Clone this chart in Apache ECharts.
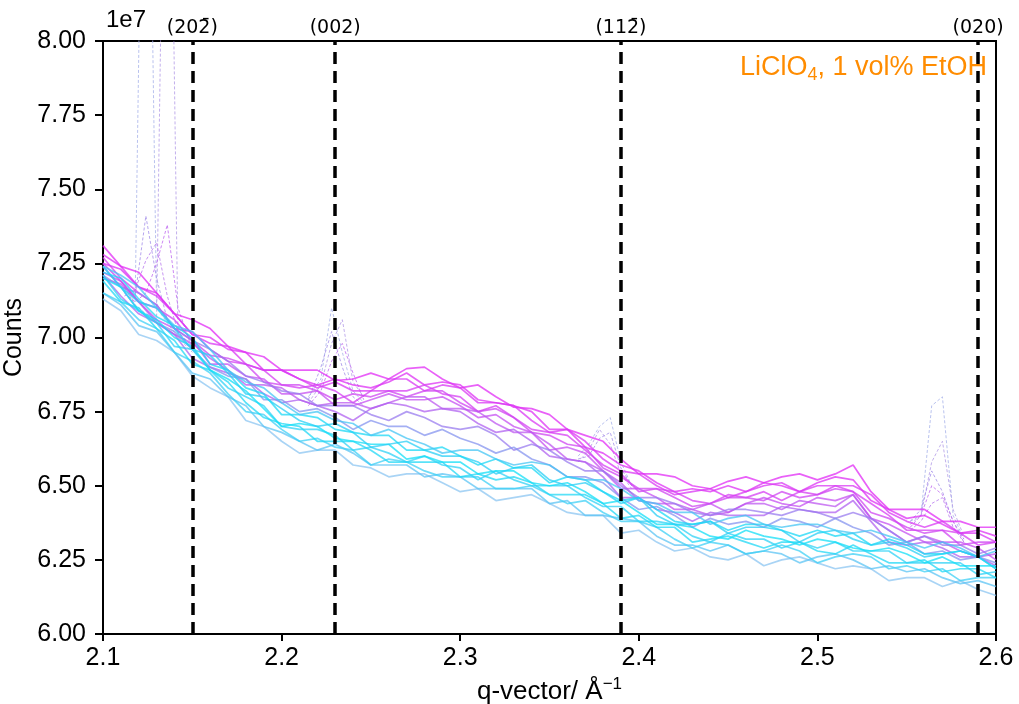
<!DOCTYPE html>
<html><head><meta charset="utf-8">
<script src="https://cdn.jsdelivr.net/npm/echarts@6/dist/echarts.min.js"></script>
<style>html,body{margin:0;padding:0;background:#fff}#c{width:1019px;height:704px}</style>
</head><body><div id="c"></div>
<script>
// q-vector grid (Å^-1)
const q = [2.10,2.11,2.12,2.13,2.14,2.15,2.16,2.17,2.18,2.19,2.20,2.21,2.22,2.23,2.24,2.25,2.26,2.27,2.28,2.29,2.30,2.31,2.32,2.33,2.34,2.35,2.36,2.37,2.38,2.39,2.40,2.41,2.42,2.43,2.44,2.45,2.46,2.47,2.48,2.49,2.50,2.51,2.52,2.53,2.54,2.55,2.56,2.57,2.58,2.59,2.60];
// counts (x1e7) for representative scans, magenta (late) -> cyan (early)
const m1 = [7.31,7.24,7.22,7.15,7.08,7.06,7.03,6.97,6.95,6.935,6.89,6.89,6.89,6.855,6.86,6.88,6.86,6.895,6.90,6.86,6.83,6.84,6.80,6.765,6.76,6.74,6.69,6.67,6.65,6.59,6.54,6.54,6.53,6.50,6.49,6.515,6.53,6.51,6.53,6.54,6.52,6.54,6.57,6.48,6.42,6.42,6.42,6.38,6.38,6.36,6.36];
const m6 = [7.28,7.24,7.17,7.15,7.08,7.01,7.00,6.96,6.95,6.89,6.89,6.86,6.84,6.86,6.84,6.83,6.85,6.88,6.84,6.85,6.84,6.79,6.78,6.77,6.75,6.69,6.69,6.63,6.61,6.57,6.55,6.51,6.48,6.49,6.48,6.50,6.48,6.51,6.50,6.48,6.51,6.53,6.52,6.45,6.42,6.39,6.40,6.37,6.34,6.35,6.33];
const m2 = [7.25,7.23,7.17,7.14,7.08,7.01,6.98,6.97,6.91,6.89,6.89,6.86,6.83,6.85,6.82,6.82,6.86,6.86,6.82,6.84,6.83,6.78,6.78,6.77,6.72,6.68,6.69,6.65,6.59,6.55,6.54,6.50,6.47,6.48,6.49,6.46,6.48,6.50,6.51,6.48,6.50,6.50,6.50,6.47,6.41,6.38,6.36,6.38,6.34,6.34,6.31];
const m7 = [7.27,7.20,7.15,7.11,7.03,7.02,6.96,6.92,6.91,6.89,6.84,6.83,6.84,6.82,6.78,6.82,6.82,6.82,6.84,6.81,6.80,6.75,6.77,6.73,6.69,6.68,6.67,6.62,6.57,6.54,6.48,6.49,6.48,6.45,6.44,6.47,6.46,6.48,6.45,6.48,6.47,6.50,6.48,6.44,6.40,6.35,6.35,6.35,6.34,6.30,6.31];
const m3 = [7.25,7.19,7.12,7.10,7.06,6.99,6.94,6.93,6.91,6.85,6.84,6.84,6.82,6.79,6.81,6.80,6.82,6.80,6.82,6.82,6.78,6.75,6.76,6.73,6.68,6.67,6.64,6.63,6.56,6.53,6.49,6.49,6.46,6.43,6.44,6.46,6.46,6.45,6.48,6.46,6.47,6.49,6.48,6.41,6.39,6.36,6.34,6.35,6.30,6.31,6.31];
const m8 = [7.22,7.19,7.12,7.06,7.03,6.99,6.91,6.91,6.87,6.86,6.81,6.81,6.82,6.77,6.77,6.79,6.81,6.79,6.79,6.80,6.77,6.73,6.74,6.70,6.68,6.62,6.63,6.61,6.55,6.49,6.49,6.46,6.42,6.42,6.44,6.41,6.44,6.46,6.44,6.43,6.46,6.45,6.47,6.39,6.37,6.34,6.31,6.31,6.31,6.29,6.25];
const m4 = [7.20,7.18,7.12,7.05,7.01,6.98,6.93,6.89,6.84,6.84,6.83,6.79,6.77,6.78,6.78,6.76,6.78,6.80,6.80,6.76,6.76,6.75,6.71,6.68,6.68,6.64,6.59,6.58,6.55,6.51,6.45,6.44,6.44,6.42,6.40,6.41,6.44,6.44,6.42,6.45,6.44,6.43,6.47,6.39,6.35,6.31,6.33,6.31,6.28,6.26,6.27];
const m5 = [7.21,7.14,7.08,7.05,7.01,6.93,6.90,6.88,6.86,6.81,6.78,6.79,6.77,6.75,6.72,6.76,6.78,6.77,6.75,6.76,6.75,6.71,6.68,6.69,6.65,6.60,6.59,6.58,6.53,6.46,6.46,6.42,6.41,6.38,6.41,6.40,6.40,6.40,6.43,6.42,6.41,6.41,6.45,6.38,6.31,6.30,6.31,6.29,6.26,6.26,6.23];
const p1 = [7.24,7.17,7.15,7.11,7.03,6.99,6.96,6.92,6.87,6.85,6.82,6.81,6.77,6.77,6.77,6.74,6.72,6.75,6.73,6.70,6.69,6.70,6.67,6.62,6.64,6.62,6.58,6.55,6.55,6.50,6.46,6.46,6.44,6.41,6.40,6.42,6.42,6.41,6.40,6.42,6.41,6.39,6.41,6.39,6.35,6.31,6.33,6.30,6.30,6.27,6.29];
const p2 = [7.21,7.17,7.09,7.05,7.02,6.96,6.90,6.87,6.86,6.79,6.79,6.75,6.76,6.73,6.69,6.72,6.70,6.70,6.67,6.69,6.66,6.64,6.61,6.63,6.59,6.57,6.53,6.53,6.51,6.46,6.42,6.43,6.40,6.36,6.39,6.37,6.38,6.36,6.39,6.38,6.36,6.39,6.36,6.34,6.30,6.31,6.27,6.28,6.25,6.26,6.24];
const c6 = [7.13,7.09,7.01,6.99,6.95,6.87,6.83,6.80,6.72,6.70,6.65,6.61,6.62,6.62,6.57,6.56,6.53,6.54,6.54,6.51,6.48,6.49,6.45,6.46,6.47,6.44,6.41,6.40,6.40,6.34,6.35,6.31,6.28,6.29,6.26,6.25,6.27,6.23,6.25,6.26,6.24,6.22,6.23,6.22,6.18,6.19,6.19,6.16,6.18,6.15,6.13];
const c9 = [7.15,7.11,7.04,7.02,6.95,6.88,6.86,6.80,6.77,6.70,6.68,6.65,6.62,6.64,6.61,6.57,6.57,6.57,6.53,6.54,6.53,6.49,6.49,6.49,6.49,6.44,6.45,6.40,6.40,6.39,6.38,6.33,6.30,6.30,6.28,6.30,6.27,6.28,6.27,6.24,6.26,6.27,6.25,6.22,6.23,6.21,6.22,6.19,6.17,6.18,6.16];
const c5 = [7.15,7.12,7.06,7.03,6.95,6.92,6.88,6.81,6.75,6.74,6.69,6.65,6.66,6.63,6.62,6.57,6.59,6.58,6.55,6.53,6.53,6.53,6.49,6.49,6.50,6.47,6.44,6.45,6.41,6.38,6.38,6.36,6.32,6.29,6.31,6.30,6.27,6.28,6.30,6.28,6.24,6.26,6.27,6.26,6.22,6.23,6.21,6.22,6.18,6.19,6.19];
const c4 = [7.19,7.12,7.10,7.03,6.99,6.91,6.89,6.85,6.78,6.73,6.71,6.70,6.65,6.65,6.65,6.62,6.58,6.58,6.58,6.58,6.53,6.54,6.52,6.53,6.51,6.47,6.47,6.47,6.44,6.39,6.40,6.36,6.36,6.31,6.32,6.33,6.31,6.29,6.31,6.31,6.28,6.27,6.30,6.27,6.24,6.24,6.25,6.21,6.22,6.22,6.19];
const c8 = [7.21,7.13,7.09,7.05,6.97,6.96,6.89,6.83,6.80,6.77,6.70,6.69,6.69,6.67,6.62,6.63,6.61,6.58,6.60,6.57,6.56,6.52,6.55,6.52,6.50,6.50,6.50,6.46,6.43,6.43,6.38,6.38,6.37,6.33,6.31,6.34,6.32,6.32,6.29,6.31,6.29,6.31,6.28,6.28,6.28,6.24,6.24,6.24,6.24,6.20,6.21];
const c3 = [7.20,7.17,7.09,7.06,7.00,6.97,6.89,6.86,6.82,6.76,6.70,6.71,6.70,6.66,6.65,6.64,6.64,6.59,6.60,6.58,6.58,6.54,6.55,6.55,6.51,6.50,6.51,6.48,6.44,6.45,6.41,6.37,6.37,6.36,6.33,6.32,6.35,6.33,6.32,6.30,6.32,6.31,6.29,6.28,6.29,6.27,6.24,6.26,6.23,6.23,6.23];
const c2 = [7.24,7.17,7.12,7.10,7.03,6.96,6.94,6.88,6.81,6.80,6.76,6.72,6.70,6.71,6.68,6.63,6.64,6.65,6.62,6.60,6.60,6.58,6.54,6.56,6.57,6.52,6.50,6.51,6.48,6.44,6.46,6.40,6.37,6.37,6.38,6.34,6.36,6.36,6.35,6.31,6.34,6.35,6.32,6.30,6.31,6.29,6.26,6.27,6.28,6.26,6.22];
const c7 = [7.22,7.20,7.13,7.07,7.04,7.00,6.91,6.89,6.83,6.81,6.74,6.74,6.73,6.69,6.68,6.67,6.67,6.62,6.62,6.63,6.60,6.57,6.59,6.56,6.56,6.51,6.53,6.52,6.48,6.45,6.46,6.42,6.38,6.37,6.38,6.35,6.37,6.37,6.35,6.33,6.35,6.33,6.34,6.30,6.32,6.30,6.27,6.27,6.28,6.26,6.22];
const c1 = [7.24,7.21,7.17,7.10,7.04,7.02,6.96,6.89,6.85,6.83,6.78,6.74,6.75,6.72,6.71,6.67,6.69,6.66,6.64,6.61,6.62,6.62,6.59,6.57,6.58,6.57,6.53,6.52,6.52,6.49,6.45,6.44,6.41,6.41,6.37,6.39,6.40,6.37,6.36,6.37,6.37,6.35,6.34,6.35,6.33,6.31,6.29,6.31,6.29,6.26,6.28];

// transient spikes (dashed scans)
const spikeQa = [2.112,2.118,2.124,2.130,2.136,2.142,2.150];
const spikeA1 = [7.16,7.12,9.60,7.10,7.05,7.00,6.96];
const spikeA2 = [7.17,7.11,7.08,7.06,9.60,7.00,6.95];
const spikeA3 = [7.17,7.14,7.41,7.20,7.06,7.02,6.96];
const spikeA4 = [7.15,7.12,7.15,7.25,7.38,7.10,6.96];
const spikeA5 = [7.14,7.16,7.26,7.32,7.14,7.02,6.97];
const spikeQb = [2.215,2.222,2.228,2.234,2.240,2.246];
const spikeB1 = [6.80,6.86,7.10,6.95,6.82,6.78];
const spikeB2 = [6.78,6.84,6.98,7.06,6.85,6.80];
const spikeB3 = [6.79,6.90,7.02,6.90,6.80,6.77];
const spikeB4 = [6.77,6.82,6.92,6.98,6.88,6.79];
const spikeQc = [2.366,2.372,2.378,2.384,2.390,2.396];
const spikeC1 = [6.60,6.64,6.70,6.73,6.58,6.50];
const spikeC2 = [6.58,6.62,6.69,6.64,6.54,6.49];
const spikeC3 = [6.59,6.60,6.66,6.68,6.56,6.50];
const spikeQd = [2.552,2.558,2.564,2.570,2.576,2.582];
const spikeD1 = [6.38,6.40,6.77,6.80,6.40,6.32];
const spikeD2 = [6.37,6.40,6.58,6.65,6.42,6.33];
const spikeD3 = [6.38,6.42,6.55,6.48,6.38,6.32];
const spikeD4 = [6.36,6.40,6.50,6.47,6.38,6.31];
const spikeD5 = [6.35,6.38,6.44,6.46,6.36,6.31];

// reflections
const reflQ = [2.15, 2.233, 2.39, 2.59];
const reflLabels = ['(202\u0304)', '(002)', '(112\u0304)', '(020)'];

const FONT = '"Liberation Sans", Arial, sans-serif';
const scanList = [m1,m6,m2,m7,m3,m8,m4,m5,p1,p2,c6,c9,c5,c4,c8,c3,c2,c7,c1];
const scanColors = ['#e22cf5','#de32f4','#da38f4','#d53ff3','#cf46f2','#c650f1','#bd58f0','#b062f0','#9a7cef','#8694ef',
  '#8cc6f1','#5cc4f4','#3fd0f5','#22d8f6','#30d2f5','#14dff7','#2acff5','#1cd8f6','#45c6f4'];

const spikeSets = [
  [spikeQa,[spikeA1,spikeA2,spikeA3,spikeA4,spikeA5]],
  [spikeQb,[spikeB1,spikeB2,spikeB3,spikeB4]],
  [spikeQc,[spikeC1,spikeC2,spikeC3]],
  [spikeQd,[spikeD1,spikeD2,spikeD3,spikeD4,spikeD5]]
];
const spikeColors = ['#a8b4ea','#b49ce8','#a590ea','#c06cf0','#b87aee'];

const series = [];
spikeSets.forEach(([qq,arrs])=>{
  arrs.forEach((arr,i)=>{
    series.push({type:'line', data:qq.map((x,k)=>[x,arr[k]]), showSymbol:false, silent:true,
      lineStyle:{color:spikeColors[i], width:0.9, type:[3,2], opacity:0.9}, z:1});
  });
});
scanList.forEach((arr,i)=>{
  series.push({type:'line', data:q.map((x,k)=>[x,arr[k]]), showSymbol:false, silent:true,
    lineStyle:{color:scanColors[i], width:1.7, opacity:0.75}, z:2});
});
series.push({type:'line', data:[], silent:true, z:10,
  markLine:{symbol:['none','none'], silent:true, animation:false,
    lineStyle:{type:[12,7], width:3.5, color:'#000'},
    label:{show:true, position:'end', distance:3, color:'#000', fontSize:19, fontFamily:'"DejaVu Sans", sans-serif', formatter:p=>p.name},
    data:reflQ.map((x,i)=>({xAxis:x, name:reflLabels[i]}))}});

const chart = echarts.init(document.getElementById('c'), null, {renderer:'canvas'});
chart.setOption({
  animation:false,
  backgroundColor:'#fff',
  textStyle:{fontFamily:FONT},
  title:{text:'{a|LiClO}{sub|4}{a|, 1 vol% EtOH}', right:27, top:47,
    textStyle:{fontWeight:'normal', rich:{a:{fontSize:27, fontWeight:'normal', color:'#ff8c00', lineHeight:32, fontFamily:FONT},
      sub:{fontSize:18, fontWeight:'normal', color:'#ff8c00', lineHeight:18, verticalAlign:'bottom', fontFamily:FONT}}}},
  graphic:[{type:'text', left:106, top:8, style:{text:'1e7', fontSize:24, fill:'#000', fontFamily:FONT}}],
  grid:{left:103, right:23, top:41, bottom:70, containLabel:false, outerBoundsMode:'none', show:true, borderColor:'#000', borderWidth:2, backgroundColor:'transparent'},
  xAxis:{type:'value', min:2.1, max:2.6, interval:0.1,
    axisLine:{show:true, onZero:false, lineStyle:{color:'#000', width:2}},
    axisTick:{show:true, length:7, lineStyle:{color:'#000', width:2}},
    axisLabel:{color:'#000', fontSize:25, margin:12, formatter:v=>v.toFixed(1)},
    splitLine:{show:false},
    name:'{a|q-vector/ Å}{sup|−1}', nameLocation:'middle', nameGap:39,
    nameTextStyle:{rich:{a:{fontSize:26, color:'#000', lineHeight:32, fontFamily:FONT}, sup:{fontSize:17, color:'#000', lineHeight:17, verticalAlign:'top', fontFamily:FONT}}}},
  yAxis:{type:'value', min:6, max:8, interval:0.25,
    axisLine:{show:true, lineStyle:{color:'#000', width:2}},
    axisTick:{show:true, length:8, lineStyle:{color:'#000', width:2}},
    axisLabel:{color:'#000', fontSize:25, margin:17, formatter:v=>v.toFixed(2)},
    splitLine:{show:false},
    name:'Counts', nameLocation:'middle', nameGap:68, nameTextStyle:{color:'#000', fontSize:25}},
  series:series
});
</script></body></html>
